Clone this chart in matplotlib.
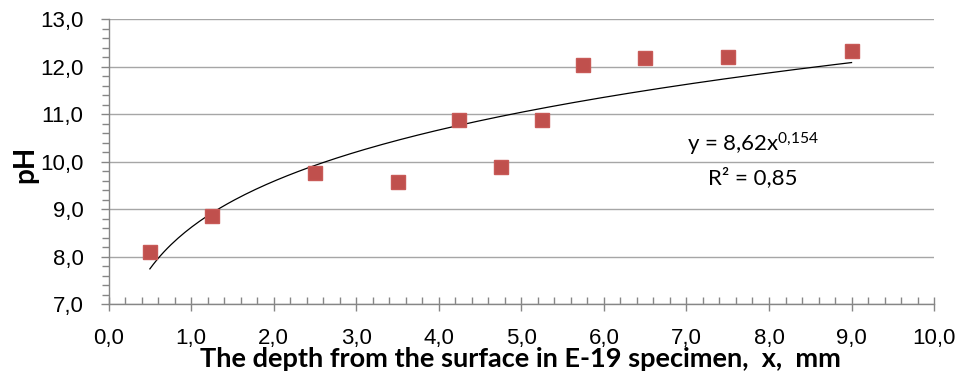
import numpy as np
import matplotlib
matplotlib.use("Agg")
import matplotlib.pyplot as plt
from matplotlib.ticker import MultipleLocator, FuncFormatter

plt.rcParams["mathtext.fontset"] = "custom"
plt.rcParams["mathtext.rm"] = "Lato"
plt.rcParams["mathtext.it"] = "Lato"

# depth (mm) and pH
depth = [0.5, 1.25, 2.5, 3.5, 4.25, 4.75, 5.25, 5.75, 6.5, 7.5, 9.0]
ph = [8.11, 8.87, 9.77, 9.57, 10.88, 9.89, 10.88, 12.04, 12.18, 12.21, 12.33]

# power trendline shown on the chart: y = a * x^b
fit_a = 8.62
fit_b = 0.154
eq_text = r"y = 8,62x$^{\mathrm{0{,}154}}$"
r2_text = "R² = 0,85"

x_label = "The depth from the surface in E-19 specimen,  x,  mm"
y_label = "pH"

comma = FuncFormatter(lambda v, pos: f"{v:.1f}".replace(".", ","))

fig = plt.figure(figsize=(9.61, 3.80), dpi=100)
ax = fig.add_axes([0.113, 0.199, 0.859, 0.750])

ax.plot(depth, ph, linestyle="none", marker="s", markersize=9.5,
        color="#C0504D", markeredgecolor="#C85A57", zorder=3)

xs = np.linspace(min(depth), max(depth), 200)
ax.plot(xs, fit_a * xs ** fit_b, color="black", linewidth=0.9, zorder=2)

ax.set_xlim(0, 10)
ax.set_ylim(7, 13)
ax.xaxis.set_major_locator(MultipleLocator(1))
ax.xaxis.set_minor_locator(MultipleLocator(0.2))
ax.yaxis.set_major_locator(MultipleLocator(1))
ax.yaxis.set_minor_locator(MultipleLocator(0.2))
ax.xaxis.set_major_formatter(comma)
ax.yaxis.set_major_formatter(comma)

ax.grid(axis="y", which="major", color="#A6A6A6", linewidth=1.0)
ax.set_axisbelow(True)
for s in ["top", "right"]:
    ax.spines[s].set_visible(False)
for s in ["left", "bottom"]:
    ax.spines[s].set_color("#868686")
    ax.spines[s].set_linewidth(1.0)

ax.tick_params(axis="x", which="major", direction="inout", length=10, width=1,
               color="#868686", pad=12, labelsize=16)
ax.tick_params(axis="x", which="minor", direction="in", length=5, width=1,
               color="#868686")
ax.tick_params(axis="y", which="major", direction="out", length=6, width=1,
               color="#868686", pad=12, labelsize=16)
ax.tick_params(axis="y", which="minor", direction="out", length=5, width=1,
               color="#868686")
for lbl in ax.get_xticklabels() + ax.get_yticklabels():
    lbl.set_fontfamily("Liberation Sans")

# axis titles placed in figure coordinates
fig.text(0.5415, 0.034, x_label, fontsize=19.5, fontweight="bold", family="Lato",
         ha="center", va="baseline")
fig.text(0.026, 0.568, y_label, fontsize=20, fontweight="bold", family="Lato",
         ha="center", va="center", rotation=90)

ax.text(7.81, 10.37, eq_text, fontsize=16, family="Lato", ha="center", va="center")
ax.text(7.80, 9.66, r2_text, fontsize=16, family="Lato", ha="center", va="center")

fig.savefig("out.png", dpi=100)
